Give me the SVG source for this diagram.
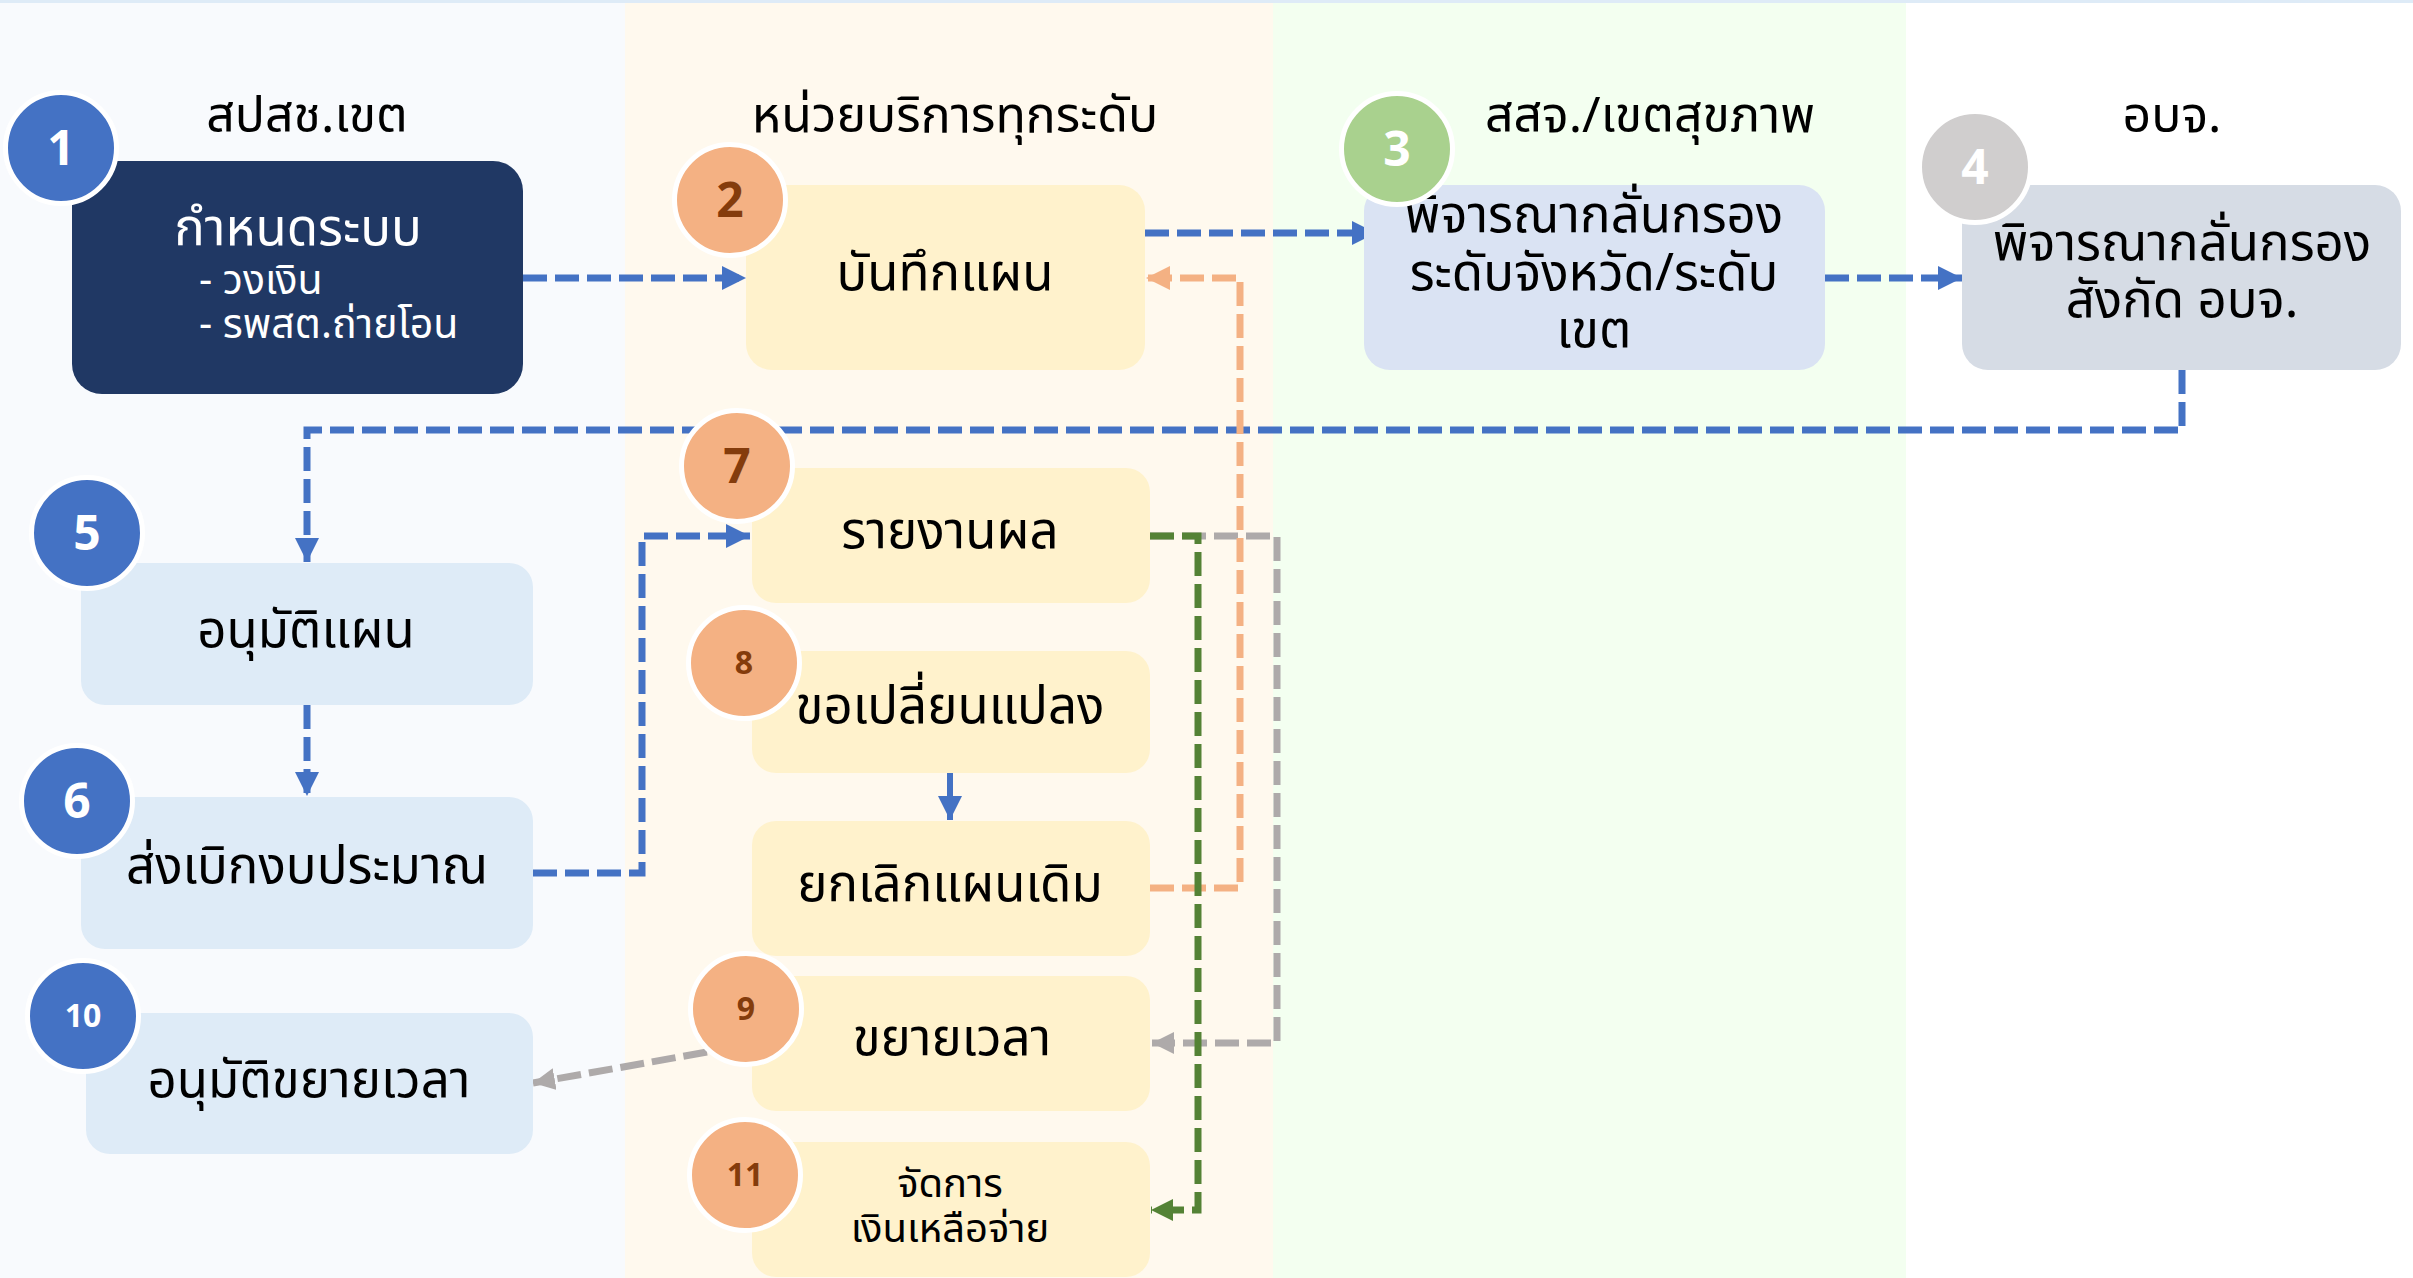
<svg xmlns="http://www.w3.org/2000/svg" width="2413" height="1278" viewBox="0 0 2413 1278">
<style>
text{font-family:"Noto Sans Thai","Noto Sans",sans-serif;fill:#000}
.h{font-size:50px;text-anchor:middle}
.t{font-size:51px;text-anchor:middle}
.s{font-size:41px}
.w{fill:#fff}
.num{font-family:"Noto Sans","Open Sans",sans-serif;font-weight:bold;text-anchor:middle}
.big{font-size:48px}
.sm{font-size:32px}
.cb{fill:#4472c4;stroke:#fff;stroke-width:5}
.co{fill:#f4b183;stroke:#fff;stroke-width:5}
.cg{fill:#a9d18e;stroke:#fff;stroke-width:5}
.cy{fill:#d0cece;stroke:#fff;stroke-width:5}
.nw{fill:#fff}
.nb{fill:#843c0c}
.yb{fill:#fff2cc}
.lb{fill:#deebf7}
.ln{fill:none;stroke-width:7;stroke-dasharray:24 8}
.blue{stroke:#4472c4}
.or{stroke:#f4b183}
.gr{stroke:#548235}
.gy{stroke:#aeaaaa}
</style>
<defs>
<marker id="ab" markerUnits="userSpaceOnUse" markerWidth="26" markerHeight="26" refX="24" refY="12" orient="auto"><path d="M0,0 L24,12 L0,24 Z" fill="#4472c4"/></marker>
<marker id="ao" markerUnits="userSpaceOnUse" markerWidth="26" markerHeight="26" refX="24" refY="12" orient="auto"><path d="M0,0 L24,12 L0,24 Z" fill="#f4b183"/></marker>
<marker id="ag" markerUnits="userSpaceOnUse" markerWidth="26" markerHeight="26" refX="22" refY="11" orient="auto"><path d="M0,0 L22,11 L0,22 Z" fill="#548235"/></marker>
<marker id="ay" markerUnits="userSpaceOnUse" markerWidth="26" markerHeight="26" refX="22" refY="11" orient="auto"><path d="M0,0 L22,11 L0,22 Z" fill="#aeaaaa"/></marker>
</defs>
<g id="background">
<rect x="0" y="0" width="2413" height="1278" fill="#ffffff"/>
<rect x="0" y="0" width="625" height="1278" fill="#f8fafd"/>
<rect x="625" y="0" width="648" height="1278" fill="#fff9ee"/>
<rect x="1273" y="0" width="633" height="1278" fill="#f3fff0"/>
<rect x="0" y="0" width="2413" height="3" fill="#deebf7"/>
</g>
<g id="headers">
<text class="h" x="307" y="132">สปสช.เขต</text>
<text class="h" x="955" y="132">หน่วยบริการทุกระดับ</text>
<text class="h" x="1650" y="132">สสจ./เขตสุขภาพ</text>
<text class="h" x="2172" y="132">อบจ.</text>
</g>
<g id="connectors">
<path class="ln blue" d="M523,278 H746" marker-end="url(#ab)"/>
<path class="ln blue" d="M1145,233 H1376" marker-end="url(#ab)"/>
<path class="ln blue" d="M1825,278 H1962" marker-end="url(#ab)"/>
<path class="ln blue" d="M2182,370 V430 H307 V562" marker-end="url(#ab)"/>
<path class="ln blue" d="M307,705 V796" marker-end="url(#ab)"/>
<path class="ln blue" d="M533,873 H642 V536 H750" marker-end="url(#ab)"/>
<path fill="none" stroke="#4472c4" stroke-width="6" d="M950,773 V820" marker-end="url(#ab)"/>
<path class="ln gy" d="M1150,536 H1277 V1043 H1152" marker-end="url(#ay)"/>
<path class="ln gy" d="M707,1052 L533,1083" marker-end="url(#ay)"/>
<path class="ln or" d="M1150,888 H1240 V278 H1146" marker-end="url(#ao)"/>
<path class="ln gr" d="M1150,536 H1198 V1210 H1151" marker-end="url(#ag)"/>
</g>
<g id="node1">
<rect x="72" y="161" width="451" height="233" rx="30" fill="#203864"/>
<text class="t w" x="298" y="245">กำหนดระบบ</text>
<text class="s w" x="199" y="294">- วงเงิน</text>
<text class="s w" x="199" y="338">- รพสต.ถ่ายโอน</text>
<circle class="cb" cx="61" cy="148" r="55.5"/>
<text class="num big nw" x="61" y="165">1</text>
</g>
<g id="node2">
<rect class="yb" x="746" y="185" width="399" height="185" rx="26"/>
<text class="t" x="945" y="290">บันทึกแผน</text>
<circle class="co" cx="730" cy="200" r="55.5"/>
<text class="num big nb" x="730" y="217">2</text>
</g>
<g id="node3">
<rect x="1364" y="185" width="461" height="185" rx="26" fill="#dae3f3"/>
<text class="t" x="1594" y="232">พิจารณากลั่นกรอง</text>
<text class="t" x="1594" y="290">ระดับจังหวัด/ระดับ</text>
<text class="t" x="1594" y="347">เขต</text>
<circle class="cg" cx="1397" cy="149" r="55.5"/>
<text class="num big nw" x="1397" y="166">3</text>
</g>
<g id="node4">
<rect x="1962" y="185" width="439" height="185" rx="26" fill="#d6dce5"/>
<text class="t" x="2182" y="260">พิจารณากลั่นกรอง</text>
<text class="t" x="2182" y="317">สังกัด อบจ.</text>
<circle class="cy" cx="1975" cy="167" r="55.5"/>
<text class="num big nw" x="1975" y="184">4</text>
</g>
<g id="node5">
<rect class="lb" x="81" y="563" width="452" height="142" rx="24"/>
<text class="t" x="306" y="647">อนุมัติแผน</text>
<circle class="cb" cx="87" cy="533" r="55.5"/>
<text class="num big nw" x="87" y="550">5</text>
</g>
<g id="node6">
<rect class="lb" x="81" y="797" width="452" height="152" rx="24"/>
<text class="t" x="307" y="883">ส่งเบิกงบประมาณ</text>
<circle class="cb" cx="77" cy="801" r="55.5"/>
<text class="num big nw" x="77" y="818">6</text>
</g>
<g id="node10">
<rect class="lb" x="86" y="1013" width="447" height="141" rx="24"/>
<text class="t" x="309" y="1097">อนุมัติขยายเวลา</text>
<circle class="cb" cx="83" cy="1016" r="55.5"/>
<text class="num sm nw" x="83" y="1027">10</text>
</g>
<g id="node7">
<rect class="yb" x="752" y="468" width="398" height="135" rx="24"/>
<text class="t" x="950" y="548">รายงานผล</text>
<circle class="co" cx="737" cy="466" r="55.5"/>
<text class="num big nb" x="737" y="483">7</text>
</g>
<g id="node8">
<rect class="yb" x="752" y="651" width="398" height="122" rx="24"/>
<text class="t" x="950" y="723">ขอเปลี่ยนแปลง</text>
<circle class="co" cx="744" cy="663" r="55.5"/>
<text class="num sm nb" x="744" y="674">8</text>
</g>
<g id="node-cancel">
<rect class="yb" x="752" y="821" width="398" height="135" rx="24"/>
<text class="t" x="950" y="901">ยกเลิกแผนเดิม</text>
</g>
<g id="node9">
<rect class="yb" x="752" y="976" width="398" height="135" rx="24"/>
<text class="t" x="952" y="1055">ขยายเวลา</text>
<circle class="co" cx="746" cy="1009" r="55.5"/>
<text class="num sm nb" x="746" y="1020">9</text>
</g>
<g id="node11">
<rect class="yb" x="752" y="1142" width="398" height="135" rx="24"/>
<text class="t" x="950" y="1197" style="font-size:40px">จัดการ</text>
<text class="t" x="950" y="1242" style="font-size:40px">เงินเหลือจ่าย</text>
<circle class="co" cx="745" cy="1175" r="55.5"/>
<text class="num sm nb" x="745" y="1186">11</text>
</g>
</svg>
